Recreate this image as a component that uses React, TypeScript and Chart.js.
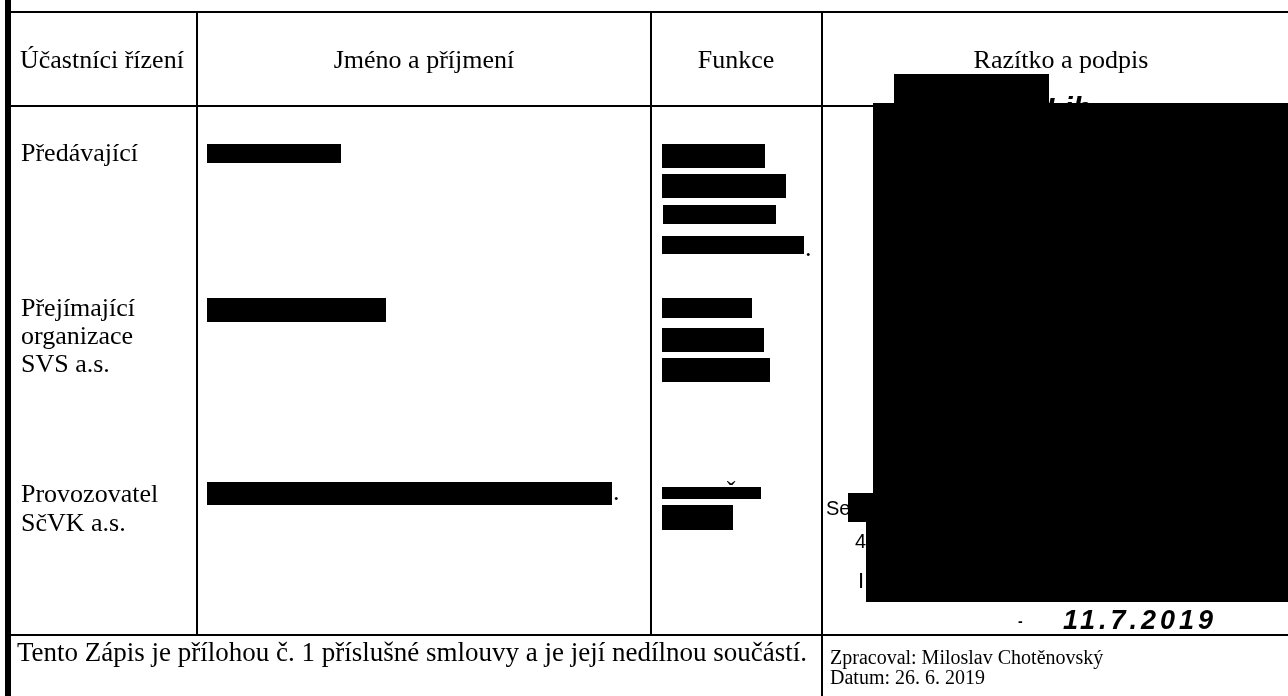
import React, { useEffect, useRef } from "react";
import { Chart, registerables } from "chart.js";

Chart.register(...registerables);

// ---- Data (page units: x 0..1288, y 0..696 from top) ----
// Redaction boxes [x0, x1, y0, y1]
const nameBoxes = [
  [207, 341, 144, 163],
  [207, 386, 298, 322],
  [207, 612, 482, 505],
];
const functionBoxes = [
  [662, 765, 144, 168],
  [662, 786, 174, 198],
  [663, 776, 205, 224],
  [662, 804, 236, 254],
  [662, 752, 298, 318],
  [662, 764, 328, 352],
  [662, 770, 358, 382],
  [662, 761, 487, 499],
  [662, 733, 505, 530],
];
const stampBoxes = [
  [894, 1049, 74, 103],
  [873, 1288, 103, 493],
  [848, 1288, 493, 522],
  [866, 1288, 522, 602],
];

// Table rules [x0, y0, x1, y1, weight]
const tableRules = [
  [8, 0, 8, 696, 6],
  [8, 12, 1288, 12, 2],
  [8, 106, 1288, 106, 2],
  [8, 635, 1288, 635, 2],
  [197, 12, 197, 635, 2],
  [651, 12, 651, 635, 2],
  [822, 12, 822, 696, 2],
];

// Text content
const headerLabels = ["Účastníci řízení", "Jméno a příjmení", "Funkce", "Razítko a podpis"];
const rowLabels = ["Předávající", "Přejímající", "organizace", "SVS a.s.", "Provozovatel", "SčVK a.s."];
const footerLeft = "Tento Zápis je přílohou č. 1 příslušné smlouvy a je její nedílnou součástí.";
const footerRight = ["Zpracoval: Miloslav Chotěnovský", "Datum: 26. 6. 2019"];
const stampFragments = ["Lib", "Sev", "4", "I"];
const handDate = "11.7.2019";

const SERIF = '"Liberation Serif", "Times New Roman", serif';
const SANS = '"Liberation Sans", Arial, sans-serif';

type TextItem = { text: string; x: number; y: number; align?: CanvasTextAlign; font: string; ls?: string };

const texts: TextItem[] = [
  { text: headerLabels[0], x: 20, y: 68, font: `26px ${SERIF}` },
  { text: headerLabels[1], x: 424, y: 68, align: "center", font: `26px ${SERIF}` },
  { text: headerLabels[2], x: 736, y: 68, align: "center", font: `26px ${SERIF}` },
  { text: headerLabels[3], x: 1061, y: 68, align: "center", font: `26px ${SERIF}` },
  { text: rowLabels[0], x: 21, y: 161, font: `26px ${SERIF}` },
  { text: rowLabels[1], x: 21, y: 316, font: `26px ${SERIF}` },
  { text: rowLabels[2], x: 21, y: 344, font: `26px ${SERIF}` },
  { text: rowLabels[3], x: 21, y: 372, font: `26px ${SERIF}` },
  { text: rowLabels[4], x: 21, y: 502, font: `26px ${SERIF}` },
  { text: rowLabels[5], x: 21, y: 531, font: `26px ${SERIF}` },
  { text: ".", x: 613, y: 500, font: `26px ${SERIF}` },
  { text: ".", x: 805, y: 256, font: `26px ${SERIF}` },
  { text: "ˇ", x: 731, y: 499, align: "center", font: `26px ${SERIF}` },
  { text: footerLeft, x: 17, y: 661, font: `27px ${SERIF}` },
  { text: footerRight[0], x: 830, y: 664, font: `20px ${SERIF}` },
  { text: footerRight[1], x: 830, y: 684, font: `20px ${SERIF}` },
  { text: stampFragments[0], x: 1046, y: 118, font: `italic bold 30px ${SANS}` },
  { text: stampFragments[1], x: 826, y: 515, font: `20px ${SANS}` },
  { text: stampFragments[2], x: 855, y: 548, font: `20px ${SANS}` },
  { text: stampFragments[3], x: 858, y: 588, font: `22px ${SANS}` },
  { text: "-", x: 1018, y: 626, font: `bold 14px ${SANS}` },
  { text: handDate, x: 1063, y: 629, font: `italic bold 27px ${SANS}`, ls: "4px" },
];

const textPlugin = {
  id: "docText",
  beforeDatasetsDraw(chart: any) {
    const { ctx, scales } = chart;
    const xs = scales.x;
    const ys = scales.y;
    ctx.save();
    ctx.fillStyle = "#000";
    ctx.textBaseline = "alphabetic";
    for (const t of texts) {
      ctx.font = t.font;
      ctx.textAlign = t.align || "left";
      (ctx as any).letterSpacing = t.ls || "0px";
      ctx.fillText(t.text, xs.getPixelForValue(t.x), ys.getPixelForValue(t.y));
    }
    ctx.restore();
  },
};

function boxDataset(b: number[]) {
  return {
    data: [
      { x: b[0], y: b[2] },
      { x: b[1], y: b[2] },
    ],
    fill: { value: b[3] },
    backgroundColor: "#000",
    borderColor: "#000",
    borderWidth: 0,
    pointRadius: 0,
    clip: false as any,
  };
}

function ruleDataset(r: number[]) {
  return {
    data: [
      { x: r[0], y: r[1] },
      { x: r[2], y: r[3] },
    ],
    fill: false,
    borderColor: "#000",
    borderWidth: r[4],
    pointRadius: 0,
    clip: false as any,
  };
}

export default function App() {
  const ref = useRef<HTMLCanvasElement | null>(null);
  useEffect(() => {
    if (!ref.current) return;
    const datasets = [
      ...stampBoxes.map(boxDataset),
      ...functionBoxes.map(boxDataset),
      ...nameBoxes.map(boxDataset),
      ...tableRules.map(ruleDataset),
    ];
    const chart = new Chart(ref.current, {
      type: "line",
      data: { datasets: datasets as any },
      options: {
        animation: false,
        responsive: false,
        devicePixelRatio: 1,
        events: [],
        layout: { padding: 0 },
        scales: {
          x: { type: "linear", min: 0, max: 1288, display: false },
          y: { type: "linear", min: 0, max: 696, reverse: true, display: false },
        },
        plugins: {
          legend: { display: false },
          tooltip: { enabled: false },
          title: { display: false },
        },
      },
      plugins: [textPlugin],
    });
    return () => chart.destroy();
  }, []);
  return (
    <div style={{ position: "absolute", left: 0, top: 0, width: 1288, height: 696, background: "#fff" }}>
      <canvas ref={ref} width={1288} height={696} />
    </div>
  );
}
